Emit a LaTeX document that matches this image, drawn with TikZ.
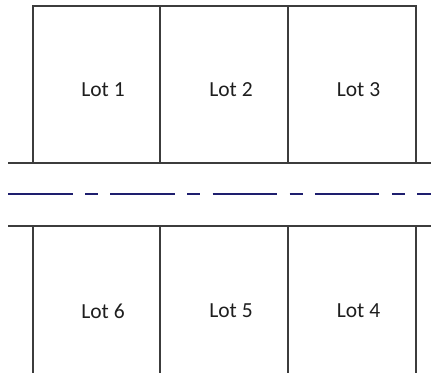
\documentclass[tikz,border=0pt]{standalone}
\usepackage{fontspec}
\setmainfont{Carlito}
\definecolor{edge}{RGB}{60,60,60}
\definecolor{navy}{RGB}{30,30,110}
\definecolor{txt}{RGB}{30,30,30}
\begin{document}
\begin{tikzpicture}[x=1pt,y=-1pt,
  lotline/.style={draw=edge,line width=1.2pt},
  roadline/.style={draw=edge,line width=1.2pt},
  centre/.style={draw=navy,line width=1.2pt,dash pattern=on 64.5pt off 12.5pt on 13pt off 12.3pt},
  lotlabel/.style={inner sep=0pt,text=txt,font=\fontsize{21.5}{26}\selectfont}]
\useasboundingbox (0,0) rectangle (431,383);
% top lots
\draw[lotline] (33,163) -- (33,6) -- (416,6) -- (416,163);
\draw[lotline] (160,6) -- (160,163);
\draw[lotline] (288,6) -- (288,163);
% road edges
\draw[roadline] (8,163) -- (431,163);
\draw[roadline] (8,226) -- (431,226);
% centre line
\draw[centre] (8,194) -- (431,194);
% bottom lots
\draw[lotline] (33,226) -- (33,373);
\draw[lotline] (160,226) -- (160,373);
\draw[lotline] (288,226) -- (288,373);
\draw[lotline] (416,226) -- (416,373);
% labels
\node[lotlabel] (l1) at (103,90) {Lot 1};
\node[lotlabel] (l2) at (231,90) {Lot 2};
\node[lotlabel] (l3) at (358.5,90) {Lot 3};
\node[lotlabel] (l6) at (103,311) {Lot 6};
\node[lotlabel] (l5) at (231,311) {Lot 5};
\node[lotlabel] (l4) at (358.5,311) {Lot 4};
\end{tikzpicture}
\end{document}
